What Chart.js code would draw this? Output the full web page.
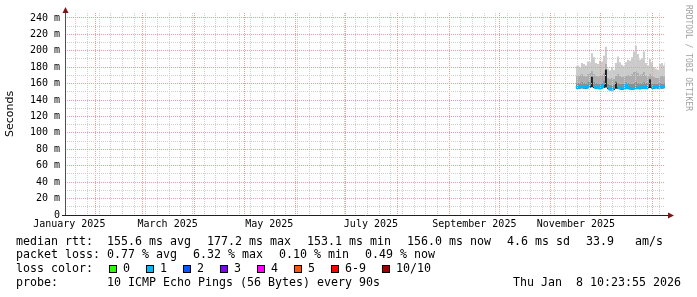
<!DOCTYPE html>
<html><head><meta charset="utf-8">
<script src="https://cdn.jsdelivr.net/npm/chart.js@4"></script>
<style>html,body{margin:0;padding:0;background:#fff;overflow:hidden}</style>
</head><body>
<canvas id="c" width="697" height="297"></canvas>
<script>
// ---- data (time in days since 2025-01-01 00:00) ----
const X_MIN = 12.433;   // Mon Jan 13 2025 10:23:55 (end - 360 days)
const X_MAX = 372.433;  // Thu Jan  8 2026 10:23:55
const sampleDays = [319.0,320.2,321.4,322.6,323.8,325.0,326.2,327.4,328.6,329.8,
  331.0,332.2,333.4,334.6,335.8,337.0,338.2,339.4,340.6,341.8,
  343.0,344.2,345.4,346.6,347.8,349.0,350.2,351.4,352.6,353.8,
  355.0,356.2,357.4,358.6,359.8,361.0,362.2,363.4,364.6,365.8,
  367.0,368.2,369.4,370.6,371.8,372.4];
const medianMs = [155.0,155.5,155.8,156.0,155.6,155.2,156.1,157.4,168.5,156.2,
  155.4,155.0,154.6,155.8,158.5,177.2,155.0,153.4,153.1,153.6,
  161.5,155.2,154.6,154.0,154.3,157.8,155.3,154.4,154.1,154.5,
  154.8,155.0,154.6,155.2,155.5,155.0,155.8,165.4,155.6,155.3,
  155.7,155.5,155.9,155.6,155.8,156.0];
const lowMs = [153.5,154.0,154.2,154.4,154.0,153.8,154.5,155.0,155.5,154.6,
  153.9,153.5,153.2,154.2,154.8,155.2,153.5,152.0,151.8,152.2,
  153.8,153.8,153.2,152.6,152.9,154.0,153.9,153.0,152.7,153.1,
  153.4,153.6,153.2,153.8,154.1,153.6,154.4,154.8,154.2,153.9,
  154.3,154.1,154.5,154.2,154.4,154.6];
const p70Ms = [160.5,161.0,161.5,162.0,161.0,160.5,162.0,163.0,170.0,162.5,
  161.0,160.5,160.0,161.5,164.0,178.0,159.5,158.5,158.0,158.5,
  163.5,161.0,160.0,159.5,160.0,162.0,161.0,160.5,160.0,161.0,
  162.0,161.5,160.5,161.0,162.0,161.0,161.5,166.5,161.0,160.5,
  160.0,160.5,161.0,160.5,161.0,161.5];
const p90Ms = [169,170,171,172,170,169,172,173,176,172,
  170,169,170,171,173,184,167,166,167,166,
  170,172,170,168,169,170,171,170,172,174,
  176,173,171,172,174,170,169,172,170,168,
  167,167,169,170,169,170];
const maxMs = [181,182,180,185,184,182,187,186,197,192,
  185,184,188,187,194,205,178,176,179,177,
  185,193,186,183,181,186,189,188,192,199,
  206,196,189,191,199,185,182,190,186,180,
  178,177,184,185,182,186];

const monthStartDays = [31,59,90,120,151,181,212,243,273,304,334,365];
const xLabelTexts = ['January 2025','March 2025','May 2025','July 2025','September 2025','November 2025'];
const xLabelMonthStarts = [0,59,120,181,243,304];
const yTickValues = [0,10,20,30,40,50,60,70,80,90,100,110,120,130,140,150,160,170,180,190,200,210,220,230,240];

const legendMedian = ['median rtt:  155.6 ms avg','177.2 ms max','153.1 ms min','156.0 ms now','4.6 ms sd','33.9   am/s'];
const legendLoss = ['packet loss: 0.77 % avg','6.32 % max','0.10 % min','0.49 % now'];
const lossLabels = ['0','1','2','3','4','5','6-9','10/10'];
const lossColors = ['#26ff00','#00b8ff','#0059ff','#7e00ff','#ff00ff','#ff5500','#ff0000','#a10000'];
const probeText = 'probe:       10 ICMP Echo Pings (56 Bytes) every 90s';
const dateText = 'Thu Jan  8 10:23:55 2026';

// ---- build ----
const pts = arr => arr.map((v, i) => ({x: sampleDays[i], y: v}));
const weekDays = [];
for (let d = 19; d <= 369; d += 7) weekDays.push(d);
const labelDays = xLabelMonthStarts.map(d => d + 15);
const xTickValues = Array.from(new Set([...weekDays, ...monthStartDays, ...labelDays])).sort((a, b) => a - b);

const MAJOR = '#eb9c9c';
const MINOR = '#d0d0d0';
const NONE = 'rgba(0,0,0,0)';
const MONO = 'DejaVu Sans Mono';

const band = (data, color) => ({data: pts(data), fill: '-1', backgroundColor: color,
  borderColor: NONE, borderWidth: 0, stepped: 'middle', pointRadius: 0});

const datasets = [
  {data: pts(medianMs), borderColor: '#00b8ff', borderWidth: 2.5, fill: false, stepped: 'middle', pointRadius: 0,
   segment: {borderColor: c => Math.abs(c.p1.parsed.y - c.p0.parsed.y) > 5 ? NONE : undefined}},
  {data: pts(lowMs), borderColor: NONE, borderWidth: 0, fill: false, stepped: 'middle', pointRadius: 0},
  band(medianMs, '#1e1e1e'),
  band(p70Ms, '#8e8e8e'),
  band(p90Ms, '#adadad'),
  band(maxMs, '#cbcbcb')
];

function gridColorX(c) {
  const v = c.tick ? c.tick.value : NaN;
  if (monthStartDays.indexOf(v) >= 0) return MAJOR;
  if (weekDays.indexOf(v) >= 0) return MINOR;
  return NONE;
}
function gridColorY(c) {
  const v = c.tick ? c.tick.value : NaN;
  if (v === 0) return NONE;
  return (v % 20 === 0) ? MAJOR : MINOR;
}

const decor = {
  id: 'decor',
  afterDraw(chart) {
    const ctx = chart.ctx, a = chart.chartArea;
    ctx.save();
    ctx.lineWidth = 1;
    ctx.strokeStyle = '#505050';
    ctx.beginPath(); ctx.moveTo(a.left + 0.5, a.bottom); ctx.lineTo(a.left + 0.5, a.top - 3); ctx.stroke();
    ctx.strokeStyle = '#202020';
    ctx.beginPath(); ctx.moveTo(a.left - 3, a.bottom + 0.5); ctx.lineTo(a.right + 4, a.bottom + 0.5); ctx.stroke();
    ctx.fillStyle = '#7f1414';
    ctx.beginPath(); ctx.moveTo(a.left + 0.5, a.top - 6); ctx.lineTo(a.left - 2.5, a.top); ctx.lineTo(a.left + 3.5, a.top); ctx.closePath(); ctx.fill();
    ctx.beginPath(); ctx.moveTo(a.right + 9, a.bottom + 0.5); ctx.lineTo(a.right + 3, a.bottom - 2.5); ctx.lineTo(a.right + 3, a.bottom + 3.5); ctx.closePath(); ctx.fill();
    ctx.save();
    ctx.translate(688, 5); ctx.rotate(Math.PI / 2);
    ctx.font = '8px "' + MONO + '"'; ctx.fillStyle = '#a0a0a0';
    ctx.textBaseline = 'middle'; ctx.textAlign = 'left';
    ctx.fillText('RRDTOOL / TOBI OETIKER', 0, 0);
    ctx.restore();
    ctx.font = '11.63px "' + MONO + '"';
    ctx.fillStyle = '#000'; ctx.textBaseline = 'middle'; ctx.textAlign = 'left';
    const gap = 16;
    let x = 16;
    legendMedian.forEach(t => { ctx.fillText(t, x, 241.5); x += ctx.measureText(t).width + gap; });
    x = 16;
    legendLoss.forEach(t => { ctx.fillText(t, x, 255.3); x += ctx.measureText(t).width + gap; });
    x = 16;
    ctx.fillText('loss color:', x, 269); x += ctx.measureText('loss color:').width + gap;
    lossLabels.forEach((t, i) => {
      ctx.fillStyle = lossColors[i]; ctx.fillRect(x, 265, 8, 8);
      ctx.strokeStyle = '#000'; ctx.strokeRect(x + 0.5, 265.5, 7, 7);
      ctx.fillStyle = '#000';
      ctx.fillText(t, x + 14, 269);
      x += 14 + ctx.measureText(t).width + gap;
    });
    ctx.fillText(probeText, 16, 282.7);
    ctx.textAlign = 'right';
    ctx.fillText(dateText, 681, 282.7);
    ctx.restore();
  }
};

new Chart(document.getElementById('c'), {
  type: 'line',
  data: {datasets},
  options: {
    responsive: false, animation: false, devicePixelRatio: 1,
    layout: {padding: {left: 0, right: 32, top: 13, bottom: 0}, autoPadding: false},
    plugins: {legend: {display: false}, tooltip: {enabled: false}, title: {display: false}},
    elements: {point: {radius: 0}, line: {tension: 0}},
    scales: {
      x: {
        type: 'linear', min: X_MIN, max: X_MAX, position: 'bottom',
        afterBuildTicks: s => { s.ticks = xTickValues.map(v => ({value: v})); },
        afterFit: s => { s.height = 82; },
        grid: {z: 1, lineWidth: 1, drawTicks: false, color: gridColorX},
        border: {display: false, dash: [1, 1]},
        ticks: {autoSkip: false, maxRotation: 0, minRotation: 0, padding: 3, color: '#000',
          font: {family: MONO, size: 10},
          callback: v => { const i = labelDays.indexOf(v); return i >= 0 ? xLabelTexts[i] : ''; }}
      },
      y: {
        type: 'linear', min: 0, max: 246,
        afterBuildTicks: s => { s.ticks = yTickValues.map(v => ({value: v})); },
        afterFit: s => { s.width = 65; },
        grid: {z: 1, lineWidth: 1, drawTicks: false, color: gridColorY},
        border: {display: false, dash: [1, 1]},
        ticks: {autoSkip: false, padding: 5, color: '#000', font: {family: MONO, size: 10},
          callback: v => v === 0 ? '0' : (v % 20 === 0 ? v + ' m' : '')},
        title: {display: true, text: 'Seconds', color: '#000',
          font: {family: 'DejaVu Sans', size: 11}, padding: {top: 4, bottom: 0}}
      }
    }
  },
  plugins: [decor]
});
</script>
</body></html>
